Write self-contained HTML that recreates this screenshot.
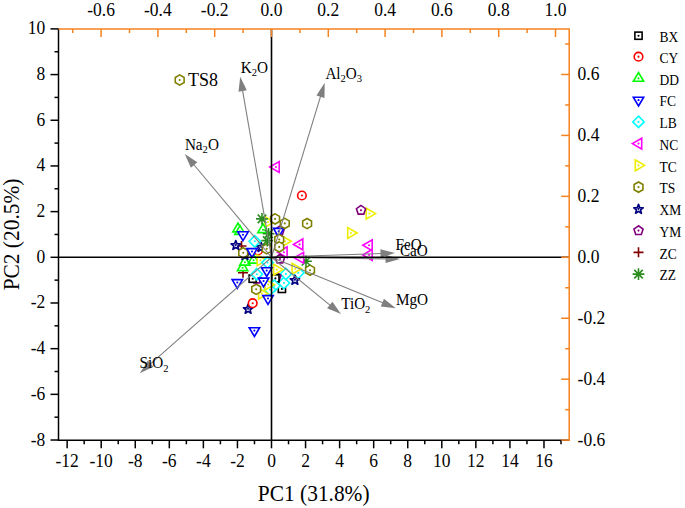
<!DOCTYPE html>
<html><head><meta charset="utf-8"><style>
html,body{margin:0;padding:0;background:#fff;width:685px;height:508px;overflow:hidden;position:relative}
</style></head><body>
<svg width="685" height="508" viewBox="0 0 685 508" style="position:absolute;left:0;top:0">
<rect width="685" height="508" fill="#ffffff"/>
<circle cx="258" cy="250.5" r="4.3" fill="#fff" stroke="#ff0000" stroke-width="1.6"/><circle cx="258" cy="250.5" r="1.05" fill="#ff0000"/>
<path d="M236.5 246 H246.5 M241.5 241 V251" fill="none" stroke="#800000" stroke-width="1.6"/>
<path d="M261.2 242.55 L259.97 245.75 L256.54 245.94 L259.2 248.1 L258.32 251.41 L261.2 249.55 L264.08 251.41 L263.2 248.1 L265.86 245.94 L262.43 245.75 Z" fill="#fff" stroke="#000080" stroke-width="1.7" stroke-linejoin="round"/><circle cx="261.2" cy="247" r="1.05" fill="#000080"/>
<path d="M375.6 213.6 L366.2 208.2 L366.2 219 Z" fill="#fff" stroke="#eeee00" stroke-width="1.6"/><circle cx="369.4" cy="213.6" r="1.05" fill="#eeee00"/>
<path d="M361 205.4 L356.43 208.72 L358.18 214.08 L363.82 214.08 L365.57 208.72 Z" fill="#fff" stroke="#800080" stroke-width="1.6"/><circle cx="361" cy="210.2" r="1.05" fill="#800080"/>
<path d="M357.1 233 L347.7 227.6 L347.7 238.4 Z" fill="#fff" stroke="#eeee00" stroke-width="1.6"/><circle cx="350.9" cy="233" r="1.05" fill="#eeee00"/>
<path d="M362.8 245.2 L372.2 239.8 L372.2 250.6 Z" fill="#fff" stroke="#ff00ff" stroke-width="1.6"/><circle cx="369" cy="245.2" r="1.05" fill="#ff00ff"/>
<path d="M362.8 254.9 L372.2 249.5 L372.2 260.3 Z" fill="#fff" stroke="#ff00ff" stroke-width="1.6"/><circle cx="369" cy="254.9" r="1.05" fill="#ff00ff"/>
<path d="M269.8 167 L279.2 161.6 L279.2 172.4 Z" fill="#fff" stroke="#ff00ff" stroke-width="1.6"/><circle cx="276" cy="167" r="1.05" fill="#ff00ff"/>
<circle cx="301.9" cy="195.5" r="4.3" fill="#fff" stroke="#ff0000" stroke-width="1.6"/><circle cx="301.9" cy="195.5" r="1.05" fill="#ff0000"/>
<path d="M307.1 218.5 L302.68 221.05 L302.68 226.15 L307.1 228.7 L311.52 226.15 L311.52 221.05 Z" fill="#fff" stroke="#808000" stroke-width="1.6"/><circle cx="307.1" cy="223.6" r="1.05" fill="#808000"/>
<path d="M310 265.1 L305.58 267.65 L305.58 272.75 L310 275.3 L314.42 272.75 L314.42 267.65 Z" fill="#fff" stroke="#808000" stroke-width="1.6"/><circle cx="310" cy="270.2" r="1.05" fill="#808000"/>
<path d="M300.1 261.3 H311.9 M306 255.4 V267.2 M301.75 257.05 L310.25 265.55 M301.75 265.55 L310.25 257.05" fill="none" stroke="#2a8c1e" stroke-width="1.6"/>
<path d="M293.4 244.4 L302.8 239 L302.8 249.8 Z" fill="#fff" stroke="#ff00ff" stroke-width="1.6"/><circle cx="299.6" cy="244.4" r="1.05" fill="#ff00ff"/>
<path d="M294.2 257.8 L303.6 252.4 L303.6 263.2 Z" fill="#fff" stroke="#ff00ff" stroke-width="1.6"/><circle cx="300.4" cy="257.8" r="1.05" fill="#ff00ff"/>
<path d="M277.7 252.3 L287.1 246.9 L287.1 257.7 Z" fill="#fff" stroke="#ff00ff" stroke-width="1.6"/><circle cx="283.9" cy="252.3" r="1.05" fill="#ff00ff"/>
<path d="M298.3 267.1 L304 272.8 L298.3 278.5 L292.6 272.8 Z" fill="#fff" stroke="#00ffff" stroke-width="1.6"/><circle cx="298.3" cy="272.8" r="1.05" fill="#00ffff"/>
<path d="M301.5 268.8 L292.1 263.4 L292.1 274.2 Z" fill="#fff" stroke="#eeee00" stroke-width="1.6"/><circle cx="295.3" cy="268.8" r="1.05" fill="#eeee00"/>
<path d="M294.9 275.35 L293.67 278.55 L290.24 278.74 L292.9 280.9 L292.02 284.21 L294.9 282.35 L297.78 284.21 L296.9 280.9 L299.56 278.74 L296.13 278.55 Z" fill="#fff" stroke="#000080" stroke-width="1.7" stroke-linejoin="round"/><circle cx="294.9" cy="279.8" r="1.05" fill="#000080"/>
<rect x="278.3" y="285.3" width="7.2" height="7.2" fill="#fff" stroke="#000000" stroke-width="1.6"/><circle cx="281.9" cy="288.9" r="1.05" fill="#000000"/>
<path d="M283.9 277.3 L289.6 283 L283.9 288.7 L278.2 283 Z" fill="#fff" stroke="#00ffff" stroke-width="1.6"/><circle cx="283.9" cy="283" r="1.05" fill="#00ffff"/>
<path d="M285.9 268.2 L291.6 273.9 L285.9 279.6 L280.2 273.9 Z" fill="#fff" stroke="#00ffff" stroke-width="1.6"/><circle cx="285.9" cy="273.9" r="1.05" fill="#00ffff"/>
<path d="M276.4 272 L271.83 275.32 L273.58 280.68 L279.22 280.68 L280.97 275.32 Z" fill="#fff" stroke="#800080" stroke-width="1.6"/><circle cx="276.4" cy="276.8" r="1.05" fill="#800080"/>
<rect x="271.8" y="274.8" width="7.2" height="7.2" fill="#fff" stroke="#000000" stroke-width="1.6"/><circle cx="275.4" cy="278.4" r="1.05" fill="#000000"/>
<path d="M274.4 280 L280.1 285.7 L274.4 291.4 L268.7 285.7 Z" fill="#fff" stroke="#00ffff" stroke-width="1.6"/><circle cx="274.4" cy="285.7" r="1.05" fill="#00ffff"/>
<path d="M283 269.6 L273.6 264.2 L273.6 275 Z" fill="#fff" stroke="#eeee00" stroke-width="1.6"/><circle cx="276.8" cy="269.6" r="1.05" fill="#eeee00"/>
<path d="M270 284 L275.7 289.7 L270 295.4 L264.3 289.7 Z" fill="#fff" stroke="#00ffff" stroke-width="1.6"/><circle cx="270" cy="289.7" r="1.05" fill="#00ffff"/>
<path d="M274.4 284.6 L265 279.2 L265 290 Z" fill="#fff" stroke="#eeee00" stroke-width="1.6"/><circle cx="268.2" cy="284.6" r="1.05" fill="#eeee00"/>
<path d="M268 293.6 L258.6 288.2 L258.6 299 Z" fill="#fff" stroke="#eeee00" stroke-width="1.6"/><circle cx="261.8" cy="293.6" r="1.05" fill="#eeee00"/>
<path d="M268 304.4 L273.2 295.6 L262.8 295.6 Z" fill="#fff" stroke="#0000ff" stroke-width="1.6"/><circle cx="268" cy="298.5" r="1.05" fill="#0000ff"/>
<path d="M256.2 284.2 L251.78 286.75 L251.78 291.85 L256.2 294.4 L260.62 291.85 L260.62 286.75 Z" fill="#fff" stroke="#808000" stroke-width="1.6"/><circle cx="256.2" cy="289.3" r="1.05" fill="#808000"/>
<path d="M248.1 304.35 L246.87 307.55 L243.44 307.74 L246.1 309.9 L245.22 313.21 L248.1 311.35 L250.98 313.21 L250.1 309.9 L252.76 307.74 L249.33 307.55 Z" fill="#fff" stroke="#000080" stroke-width="1.7" stroke-linejoin="round"/><circle cx="248.1" cy="308.8" r="1.05" fill="#000080"/>
<circle cx="252.7" cy="303.2" r="4.3" fill="#fff" stroke="#ff0000" stroke-width="1.6"/><circle cx="252.7" cy="303.2" r="1.05" fill="#ff0000"/>
<path d="M254.4 336.5 L259.6 327.7 L249.2 327.7 Z" fill="#fff" stroke="#0000ff" stroke-width="1.6"/><circle cx="254.4" cy="330.6" r="1.05" fill="#0000ff"/>
<path d="M237.3 288.4 L242.5 279.6 L232.1 279.6 Z" fill="#fff" stroke="#0000ff" stroke-width="1.6"/><circle cx="237.3" cy="282.5" r="1.05" fill="#0000ff"/>
<path d="M256.5 274.2 L251.93 277.52 L253.68 282.88 L259.32 282.88 L261.07 277.52 Z" fill="#fff" stroke="#800080" stroke-width="1.6"/><circle cx="256.5" cy="279" r="1.05" fill="#800080"/>
<rect x="249.1" y="275.1" width="7.2" height="7.2" fill="#fff" stroke="#000000" stroke-width="1.6"/><circle cx="252.7" cy="278.7" r="1.05" fill="#000000"/>
<path d="M256.8 268.5 L262.5 274.2 L256.8 279.9 L251.1 274.2 Z" fill="#fff" stroke="#00ffff" stroke-width="1.6"/><circle cx="256.8" cy="274.2" r="1.05" fill="#00ffff"/>
<path d="M263.6 286.9 L268.8 278.1 L258.4 278.1 Z" fill="#fff" stroke="#0000ff" stroke-width="1.6"/><circle cx="263.6" cy="281" r="1.05" fill="#0000ff"/>
<path d="M238 272.8 H248 M243 267.8 V277.8" fill="none" stroke="#800000" stroke-width="1.6"/>
<path d="M242.6 261.8 L247.8 270.6 L237.4 270.6 Z" fill="#fff" stroke="#00ff00" stroke-width="1.6"/><circle cx="242.6" cy="267.7" r="1.05" fill="#00ff00"/>
<path d="M244.9 256.3 L250.1 265.1 L239.7 265.1 Z" fill="#fff" stroke="#00ff00" stroke-width="1.6"/><circle cx="244.9" cy="262.2" r="1.05" fill="#00ff00"/>
<path d="M253.6 254.3 L258.8 263.1 L248.4 263.1 Z" fill="#fff" stroke="#00ff00" stroke-width="1.6"/><circle cx="253.6" cy="260.2" r="1.05" fill="#00ff00"/>
<path d="M266.6 260.2 L257.2 254.8 L257.2 265.6 Z" fill="#fff" stroke="#eeee00" stroke-width="1.6"/><circle cx="260.4" cy="260.2" r="1.05" fill="#eeee00"/>
<path d="M267.5 256.9 L273.2 262.6 L267.5 268.3 L261.8 262.6 Z" fill="#fff" stroke="#00ffff" stroke-width="1.6"/><circle cx="267.5" cy="262.6" r="1.05" fill="#00ffff"/>
<path d="M266.7 276.5 L271.9 267.7 L261.5 267.7 Z" fill="#fff" stroke="#0000ff" stroke-width="1.6"/><circle cx="266.7" cy="270.6" r="1.05" fill="#0000ff"/>
<path d="M280 254.2 L275.43 257.52 L277.18 262.88 L282.82 262.88 L284.57 257.52 Z" fill="#fff" stroke="#800080" stroke-width="1.6"/><circle cx="280" cy="259" r="1.05" fill="#800080"/>
<path d="M266.8 243.7 L262.38 246.25 L262.38 251.35 L266.8 253.9 L271.22 251.35 L271.22 246.25 Z" fill="#fff" stroke="#808000" stroke-width="1.6"/><circle cx="266.8" cy="248.8" r="1.05" fill="#808000"/>
<path d="M245 250.55 L243.77 253.75 L240.34 253.94 L243 256.1 L242.12 259.41 L245 257.55 L247.88 259.41 L247 256.1 L249.66 253.94 L246.23 253.75 Z" fill="#fff" stroke="#000080" stroke-width="1.7" stroke-linejoin="round"/><circle cx="245" cy="255" r="1.05" fill="#000080"/>
<path d="M243.2 247.7 L238.78 250.25 L238.78 255.35 L243.2 257.9 L247.62 255.35 L247.62 250.25 Z" fill="#fff" stroke="#808000" stroke-width="1.6"/><circle cx="243.2" cy="252.8" r="1.05" fill="#808000"/>
<path d="M252 257.4 L257.2 248.6 L246.8 248.6 Z" fill="#fff" stroke="#0000ff" stroke-width="1.6"/><circle cx="252" cy="251.5" r="1.05" fill="#0000ff"/>
<path d="M235.8 240.55 L234.57 243.75 L231.14 243.94 L233.8 246.1 L232.92 249.41 L235.8 247.55 L238.68 249.41 L237.8 246.1 L240.46 243.94 L237.03 243.75 Z" fill="#fff" stroke="#000080" stroke-width="1.7" stroke-linejoin="round"/><circle cx="235.8" cy="245" r="1.05" fill="#000080"/>
<path d="M254.8 235.6 L260.5 241.3 L254.8 247 L249.1 241.3 Z" fill="#fff" stroke="#00ffff" stroke-width="1.6"/><circle cx="254.8" cy="241.3" r="1.05" fill="#00ffff"/>
<path d="M238 223.1 L243.2 231.9 L232.8 231.9 Z" fill="#fff" stroke="#00ff00" stroke-width="1.6"/><circle cx="238" cy="229" r="1.05" fill="#00ff00"/>
<path d="M240 225.6 L245.2 234.4 L234.8 234.4 Z" fill="#fff" stroke="#00ff00" stroke-width="1.6"/><circle cx="240" cy="231.5" r="1.05" fill="#00ff00"/>
<path d="M243 240.6 L248.2 231.8 L237.8 231.8 Z" fill="#fff" stroke="#0000ff" stroke-width="1.6"/><circle cx="243" cy="234.7" r="1.05" fill="#0000ff"/>
<path d="M291.2 241.3 L281.8 235.9 L281.8 246.7 Z" fill="#fff" stroke="#eeee00" stroke-width="1.6"/><circle cx="285" cy="241.3" r="1.05" fill="#eeee00"/>
<path d="M279.5 226.2 L274.93 229.52 L276.68 234.88 L282.32 234.88 L284.07 229.52 Z" fill="#fff" stroke="#800080" stroke-width="1.6"/><circle cx="279.5" cy="231" r="1.05" fill="#800080"/>
<path d="M278.7 237.2 L283.9 228.4 L273.5 228.4 Z" fill="#fff" stroke="#0000ff" stroke-width="1.6"/><circle cx="278.7" cy="231.3" r="1.05" fill="#0000ff"/>
<path d="M279.2 234.4 L274.78 236.95 L274.78 242.05 L279.2 244.6 L283.62 242.05 L283.62 236.95 Z" fill="#fff" stroke="#808000" stroke-width="1.6"/><circle cx="279.2" cy="239.5" r="1.05" fill="#808000"/>
<path d="M279.2 241.8 L274.78 244.35 L274.78 249.45 L279.2 252 L283.62 249.45 L283.62 244.35 Z" fill="#fff" stroke="#808000" stroke-width="1.6"/><circle cx="279.2" cy="246.9" r="1.05" fill="#808000"/>
<path d="M274.2 222 L264.8 216.6 L264.8 227.4 Z" fill="#fff" stroke="#eeee00" stroke-width="1.6"/><circle cx="268" cy="222" r="1.05" fill="#eeee00"/>
<path d="M284.8 218.3 L280.38 220.85 L280.38 225.95 L284.8 228.5 L289.22 225.95 L289.22 220.85 Z" fill="#fff" stroke="#808000" stroke-width="1.6"/><circle cx="284.8" cy="223.4" r="1.05" fill="#808000"/>
<path d="M275.1 213.8 L270.68 216.35 L270.68 221.45 L275.1 224 L279.52 221.45 L279.52 216.35 Z" fill="#fff" stroke="#808000" stroke-width="1.6"/><circle cx="275.1" cy="218.9" r="1.05" fill="#808000"/>
<path d="M263 223.8 L268.2 232.6 L257.8 232.6 Z" fill="#fff" stroke="#00ff00" stroke-width="1.6"/><circle cx="263" cy="229.7" r="1.05" fill="#00ff00"/>
<path d="M262.7 233.8 H274.5 M268.6 227.9 V239.7 M264.35 229.55 L272.85 238.05 M264.35 238.05 L272.85 229.55" fill="none" stroke="#2a8c1e" stroke-width="1.6"/>
<path d="M261.3 240.6 H273.1 M267.2 234.7 V246.5 M262.95 236.35 L271.45 244.85 M262.95 244.85 L271.45 236.35" fill="none" stroke="#2a8c1e" stroke-width="1.6"/>
<path d="M256.1 218.9 H267.9 M262 213 V224.8 M257.75 214.65 L266.25 223.15 M257.75 223.15 L266.25 214.65" fill="none" stroke="#2a8c1e" stroke-width="1.6"/>
<path d="M179.7 74.9 L175.28 77.45 L175.28 82.55 L179.7 85.1 L184.12 82.55 L184.12 77.45 Z" fill="#fff" stroke="#808000" stroke-width="1.6"/><circle cx="179.7" cy="80" r="1.05" fill="#808000"/>
<line x1="271.5" y1="257.3" x2="242.51" y2="90.1" stroke="#7f7f7f" stroke-width="1.1"/>
<path d="M240.2 76.8 L246.82 90.37 L238.54 91.8 Z" fill="#7f7f7f"/>
<line x1="271.5" y1="257.3" x2="320.76" y2="95.71" stroke="#7f7f7f" stroke-width="1.1"/>
<path d="M324.7 82.8 L324.49 97.89 L316.45 95.44 Z" fill="#7f7f7f"/>
<line x1="271.5" y1="257.3" x2="193.47" y2="164.24" stroke="#7f7f7f" stroke-width="1.1"/>
<path d="M184.8 153.9 L197.33 162.31 L190.9 167.71 Z" fill="#7f7f7f"/>
<line x1="271.5" y1="257.3" x2="149.93" y2="364.38" stroke="#7f7f7f" stroke-width="1.1"/>
<path d="M139.8 373.3 L147.91 360.56 L153.46 366.87 Z" fill="#7f7f7f"/>
<line x1="271.5" y1="257.3" x2="330.55" y2="305.56" stroke="#7f7f7f" stroke-width="1.1"/>
<path d="M341 314.1 L327.11 308.18 L332.43 301.67 Z" fill="#7f7f7f"/>
<line x1="271.5" y1="257.3" x2="383.31" y2="303.08" stroke="#7f7f7f" stroke-width="1.1"/>
<path d="M395.8 308.2 L380.79 306.59 L383.97 298.82 Z" fill="#7f7f7f"/>
<line x1="271.5" y1="257.3" x2="381.51" y2="253.47" stroke="#7f7f7f" stroke-width="1.1"/>
<path d="M395 253 L380.65 257.7 L380.36 249.31 Z" fill="#7f7f7f"/>
<line x1="271.5" y1="257.3" x2="386.6" y2="258.91" stroke="#7f7f7f" stroke-width="1.1"/>
<path d="M400.1 259.1 L385.54 263.1 L385.66 254.7 Z" fill="#7f7f7f"/>
<line x1="58.5" y1="257.3" x2="569.2" y2="257.3" stroke="#000" stroke-width="1.6"/>
<line x1="271.5" y1="29" x2="271.5" y2="440.3" stroke="#000" stroke-width="1.6"/>
<line x1="58.5" y1="28.4" x2="58.5" y2="440.9" stroke="#000" stroke-width="1.5"/>
<line x1="57.9" y1="440.3" x2="569.2" y2="440.3" stroke="#000" stroke-width="1.5"/>
<line x1="50.5" y1="440.02" x2="58.5" y2="440.02" stroke="#000" stroke-width="1.5"/>
<line x1="54.5" y1="417.18" x2="58.5" y2="417.18" stroke="#000" stroke-width="1.5"/>
<line x1="50.5" y1="394.34" x2="58.5" y2="394.34" stroke="#000" stroke-width="1.5"/>
<line x1="54.5" y1="371.5" x2="58.5" y2="371.5" stroke="#000" stroke-width="1.5"/>
<line x1="50.5" y1="348.66" x2="58.5" y2="348.66" stroke="#000" stroke-width="1.5"/>
<line x1="54.5" y1="325.82" x2="58.5" y2="325.82" stroke="#000" stroke-width="1.5"/>
<line x1="50.5" y1="302.98" x2="58.5" y2="302.98" stroke="#000" stroke-width="1.5"/>
<line x1="54.5" y1="280.14" x2="58.5" y2="280.14" stroke="#000" stroke-width="1.5"/>
<line x1="50.5" y1="257.3" x2="58.5" y2="257.3" stroke="#000" stroke-width="1.5"/>
<line x1="54.5" y1="234.46" x2="58.5" y2="234.46" stroke="#000" stroke-width="1.5"/>
<line x1="50.5" y1="211.62" x2="58.5" y2="211.62" stroke="#000" stroke-width="1.5"/>
<line x1="54.5" y1="188.78" x2="58.5" y2="188.78" stroke="#000" stroke-width="1.5"/>
<line x1="50.5" y1="165.94" x2="58.5" y2="165.94" stroke="#000" stroke-width="1.5"/>
<line x1="54.5" y1="143.1" x2="58.5" y2="143.1" stroke="#000" stroke-width="1.5"/>
<line x1="50.5" y1="120.26" x2="58.5" y2="120.26" stroke="#000" stroke-width="1.5"/>
<line x1="54.5" y1="97.42" x2="58.5" y2="97.42" stroke="#000" stroke-width="1.5"/>
<line x1="50.5" y1="74.58" x2="58.5" y2="74.58" stroke="#000" stroke-width="1.5"/>
<line x1="54.5" y1="51.74" x2="58.5" y2="51.74" stroke="#000" stroke-width="1.5"/>
<line x1="50.5" y1="28.9" x2="58.5" y2="28.9" stroke="#000" stroke-width="1.5"/>
<line x1="67.14" y1="440.3" x2="67.14" y2="448.3" stroke="#000" stroke-width="1.5"/>
<line x1="84.17" y1="440.3" x2="84.17" y2="444.3" stroke="#000" stroke-width="1.5"/>
<line x1="101.2" y1="440.3" x2="101.2" y2="448.3" stroke="#000" stroke-width="1.5"/>
<line x1="118.23" y1="440.3" x2="118.23" y2="444.3" stroke="#000" stroke-width="1.5"/>
<line x1="135.26" y1="440.3" x2="135.26" y2="448.3" stroke="#000" stroke-width="1.5"/>
<line x1="152.29" y1="440.3" x2="152.29" y2="444.3" stroke="#000" stroke-width="1.5"/>
<line x1="169.32" y1="440.3" x2="169.32" y2="448.3" stroke="#000" stroke-width="1.5"/>
<line x1="186.35" y1="440.3" x2="186.35" y2="444.3" stroke="#000" stroke-width="1.5"/>
<line x1="203.38" y1="440.3" x2="203.38" y2="448.3" stroke="#000" stroke-width="1.5"/>
<line x1="220.41" y1="440.3" x2="220.41" y2="444.3" stroke="#000" stroke-width="1.5"/>
<line x1="237.44" y1="440.3" x2="237.44" y2="448.3" stroke="#000" stroke-width="1.5"/>
<line x1="254.47" y1="440.3" x2="254.47" y2="444.3" stroke="#000" stroke-width="1.5"/>
<line x1="271.5" y1="440.3" x2="271.5" y2="448.3" stroke="#000" stroke-width="1.5"/>
<line x1="288.53" y1="440.3" x2="288.53" y2="444.3" stroke="#000" stroke-width="1.5"/>
<line x1="305.56" y1="440.3" x2="305.56" y2="448.3" stroke="#000" stroke-width="1.5"/>
<line x1="322.59" y1="440.3" x2="322.59" y2="444.3" stroke="#000" stroke-width="1.5"/>
<line x1="339.62" y1="440.3" x2="339.62" y2="448.3" stroke="#000" stroke-width="1.5"/>
<line x1="356.65" y1="440.3" x2="356.65" y2="444.3" stroke="#000" stroke-width="1.5"/>
<line x1="373.68" y1="440.3" x2="373.68" y2="448.3" stroke="#000" stroke-width="1.5"/>
<line x1="390.71" y1="440.3" x2="390.71" y2="444.3" stroke="#000" stroke-width="1.5"/>
<line x1="407.74" y1="440.3" x2="407.74" y2="448.3" stroke="#000" stroke-width="1.5"/>
<line x1="424.77" y1="440.3" x2="424.77" y2="444.3" stroke="#000" stroke-width="1.5"/>
<line x1="441.8" y1="440.3" x2="441.8" y2="448.3" stroke="#000" stroke-width="1.5"/>
<line x1="458.83" y1="440.3" x2="458.83" y2="444.3" stroke="#000" stroke-width="1.5"/>
<line x1="475.86" y1="440.3" x2="475.86" y2="448.3" stroke="#000" stroke-width="1.5"/>
<line x1="492.89" y1="440.3" x2="492.89" y2="444.3" stroke="#000" stroke-width="1.5"/>
<line x1="509.92" y1="440.3" x2="509.92" y2="448.3" stroke="#000" stroke-width="1.5"/>
<line x1="526.95" y1="440.3" x2="526.95" y2="444.3" stroke="#000" stroke-width="1.5"/>
<line x1="543.98" y1="440.3" x2="543.98" y2="448.3" stroke="#000" stroke-width="1.5"/>
<line x1="561.01" y1="440.3" x2="561.01" y2="444.3" stroke="#000" stroke-width="1.5"/>
<line x1="58.5" y1="29" x2="569.9" y2="29" stroke="#f58220" stroke-width="1.5"/>
<line x1="569.2" y1="29" x2="569.2" y2="440.9" stroke="#f58220" stroke-width="1.5"/>
<line x1="72.7" y1="29" x2="72.7" y2="33" stroke="#f58220" stroke-width="1.5"/>
<line x1="101.1" y1="29" x2="101.1" y2="37" stroke="#f58220" stroke-width="1.5"/>
<line x1="129.5" y1="29" x2="129.5" y2="33" stroke="#f58220" stroke-width="1.5"/>
<line x1="157.9" y1="29" x2="157.9" y2="37" stroke="#f58220" stroke-width="1.5"/>
<line x1="186.3" y1="29" x2="186.3" y2="33" stroke="#f58220" stroke-width="1.5"/>
<line x1="214.7" y1="29" x2="214.7" y2="37" stroke="#f58220" stroke-width="1.5"/>
<line x1="243.1" y1="29" x2="243.1" y2="33" stroke="#f58220" stroke-width="1.5"/>
<line x1="271.5" y1="29" x2="271.5" y2="37" stroke="#f58220" stroke-width="1.5"/>
<line x1="299.9" y1="29" x2="299.9" y2="33" stroke="#f58220" stroke-width="1.5"/>
<line x1="328.3" y1="29" x2="328.3" y2="37" stroke="#f58220" stroke-width="1.5"/>
<line x1="356.7" y1="29" x2="356.7" y2="33" stroke="#f58220" stroke-width="1.5"/>
<line x1="385.1" y1="29" x2="385.1" y2="37" stroke="#f58220" stroke-width="1.5"/>
<line x1="413.5" y1="29" x2="413.5" y2="33" stroke="#f58220" stroke-width="1.5"/>
<line x1="441.9" y1="29" x2="441.9" y2="37" stroke="#f58220" stroke-width="1.5"/>
<line x1="470.3" y1="29" x2="470.3" y2="33" stroke="#f58220" stroke-width="1.5"/>
<line x1="498.7" y1="29" x2="498.7" y2="37" stroke="#f58220" stroke-width="1.5"/>
<line x1="527.1" y1="29" x2="527.1" y2="33" stroke="#f58220" stroke-width="1.5"/>
<line x1="555.5" y1="29" x2="555.5" y2="37" stroke="#f58220" stroke-width="1.5"/>
<line x1="561.2" y1="440.12" x2="569.2" y2="440.12" stroke="#f58220" stroke-width="1.5"/>
<line x1="565.2" y1="409.65" x2="569.2" y2="409.65" stroke="#f58220" stroke-width="1.5"/>
<line x1="561.2" y1="379.18" x2="569.2" y2="379.18" stroke="#f58220" stroke-width="1.5"/>
<line x1="565.2" y1="348.71" x2="569.2" y2="348.71" stroke="#f58220" stroke-width="1.5"/>
<line x1="561.2" y1="318.24" x2="569.2" y2="318.24" stroke="#f58220" stroke-width="1.5"/>
<line x1="565.2" y1="287.77" x2="569.2" y2="287.77" stroke="#f58220" stroke-width="1.5"/>
<line x1="561.2" y1="257.3" x2="569.2" y2="257.3" stroke="#f58220" stroke-width="1.5"/>
<line x1="565.2" y1="226.83" x2="569.2" y2="226.83" stroke="#f58220" stroke-width="1.5"/>
<line x1="561.2" y1="196.36" x2="569.2" y2="196.36" stroke="#f58220" stroke-width="1.5"/>
<line x1="565.2" y1="165.89" x2="569.2" y2="165.89" stroke="#f58220" stroke-width="1.5"/>
<line x1="561.2" y1="135.42" x2="569.2" y2="135.42" stroke="#f58220" stroke-width="1.5"/>
<line x1="565.2" y1="104.95" x2="569.2" y2="104.95" stroke="#f58220" stroke-width="1.5"/>
<line x1="561.2" y1="74.48" x2="569.2" y2="74.48" stroke="#f58220" stroke-width="1.5"/>
<line x1="565.2" y1="44.01" x2="569.2" y2="44.01" stroke="#f58220" stroke-width="1.5"/>
<text transform="translate(45.3 445.52) scale(1 1.05)" text-anchor="end" font-family='"Liberation Serif", serif' font-size="17.5">-8</text>
<text transform="translate(45.3 399.84) scale(1 1.05)" text-anchor="end" font-family='"Liberation Serif", serif' font-size="17.5">-6</text>
<text transform="translate(45.3 354.16) scale(1 1.05)" text-anchor="end" font-family='"Liberation Serif", serif' font-size="17.5">-4</text>
<text transform="translate(45.3 308.48) scale(1 1.05)" text-anchor="end" font-family='"Liberation Serif", serif' font-size="17.5">-2</text>
<text transform="translate(45.3 262.8) scale(1 1.05)" text-anchor="end" font-family='"Liberation Serif", serif' font-size="17.5">0</text>
<text transform="translate(45.3 217.12) scale(1 1.05)" text-anchor="end" font-family='"Liberation Serif", serif' font-size="17.5">2</text>
<text transform="translate(45.3 171.44) scale(1 1.05)" text-anchor="end" font-family='"Liberation Serif", serif' font-size="17.5">4</text>
<text transform="translate(45.3 125.76) scale(1 1.05)" text-anchor="end" font-family='"Liberation Serif", serif' font-size="17.5">6</text>
<text transform="translate(45.3 80.08) scale(1 1.05)" text-anchor="end" font-family='"Liberation Serif", serif' font-size="17.5">8</text>
<text transform="translate(45.3 34.4) scale(1 1.05)" text-anchor="end" font-family='"Liberation Serif", serif' font-size="17.5">10</text>
<text transform="translate(67.14 467.1) scale(1 1.05)" text-anchor="middle" font-family='"Liberation Serif", serif' font-size="17.5">-12</text>
<text transform="translate(101.2 467.1) scale(1 1.05)" text-anchor="middle" font-family='"Liberation Serif", serif' font-size="17.5">-10</text>
<text transform="translate(135.26 467.1) scale(1 1.05)" text-anchor="middle" font-family='"Liberation Serif", serif' font-size="17.5">-8</text>
<text transform="translate(169.32 467.1) scale(1 1.05)" text-anchor="middle" font-family='"Liberation Serif", serif' font-size="17.5">-6</text>
<text transform="translate(203.38 467.1) scale(1 1.05)" text-anchor="middle" font-family='"Liberation Serif", serif' font-size="17.5">-4</text>
<text transform="translate(237.44 467.1) scale(1 1.05)" text-anchor="middle" font-family='"Liberation Serif", serif' font-size="17.5">-2</text>
<text transform="translate(271.5 467.1) scale(1 1.05)" text-anchor="middle" font-family='"Liberation Serif", serif' font-size="17.5">0</text>
<text transform="translate(305.56 467.1) scale(1 1.05)" text-anchor="middle" font-family='"Liberation Serif", serif' font-size="17.5">2</text>
<text transform="translate(339.62 467.1) scale(1 1.05)" text-anchor="middle" font-family='"Liberation Serif", serif' font-size="17.5">4</text>
<text transform="translate(373.68 467.1) scale(1 1.05)" text-anchor="middle" font-family='"Liberation Serif", serif' font-size="17.5">6</text>
<text transform="translate(407.74 467.1) scale(1 1.05)" text-anchor="middle" font-family='"Liberation Serif", serif' font-size="17.5">8</text>
<text transform="translate(441.8 467.1) scale(1 1.05)" text-anchor="middle" font-family='"Liberation Serif", serif' font-size="17.5">10</text>
<text transform="translate(475.86 467.1) scale(1 1.05)" text-anchor="middle" font-family='"Liberation Serif", serif' font-size="17.5">12</text>
<text transform="translate(509.92 467.1) scale(1 1.05)" text-anchor="middle" font-family='"Liberation Serif", serif' font-size="17.5">14</text>
<text transform="translate(543.98 467.1) scale(1 1.05)" text-anchor="middle" font-family='"Liberation Serif", serif' font-size="17.5">16</text>
<text transform="translate(101.1 16.1) scale(1 1.05)" text-anchor="middle" font-family='"Liberation Serif", serif' font-size="17.5">-0.6</text>
<text transform="translate(157.9 16.1) scale(1 1.05)" text-anchor="middle" font-family='"Liberation Serif", serif' font-size="17.5">-0.4</text>
<text transform="translate(214.7 16.1) scale(1 1.05)" text-anchor="middle" font-family='"Liberation Serif", serif' font-size="17.5">-0.2</text>
<text transform="translate(271.5 16.1) scale(1 1.05)" text-anchor="middle" font-family='"Liberation Serif", serif' font-size="17.5">0.0</text>
<text transform="translate(328.3 16.1) scale(1 1.05)" text-anchor="middle" font-family='"Liberation Serif", serif' font-size="17.5">0.2</text>
<text transform="translate(385.1 16.1) scale(1 1.05)" text-anchor="middle" font-family='"Liberation Serif", serif' font-size="17.5">0.4</text>
<text transform="translate(441.9 16.1) scale(1 1.05)" text-anchor="middle" font-family='"Liberation Serif", serif' font-size="17.5">0.6</text>
<text transform="translate(498.7 16.1) scale(1 1.05)" text-anchor="middle" font-family='"Liberation Serif", serif' font-size="17.5">0.8</text>
<text transform="translate(555.5 16.1) scale(1 1.05)" text-anchor="middle" font-family='"Liberation Serif", serif' font-size="17.5">1.0</text>
<text transform="translate(577.6 445.92) scale(1 1.05)" font-family='"Liberation Serif", serif' font-size="17.5">-0.6</text>
<text transform="translate(577.6 384.98) scale(1 1.05)" font-family='"Liberation Serif", serif' font-size="17.5">-0.4</text>
<text transform="translate(577.6 324.04) scale(1 1.05)" font-family='"Liberation Serif", serif' font-size="17.5">-0.2</text>
<text transform="translate(577.6 263.1) scale(1 1.05)" font-family='"Liberation Serif", serif' font-size="17.5">0.0</text>
<text transform="translate(577.6 202.16) scale(1 1.05)" font-family='"Liberation Serif", serif' font-size="17.5">0.2</text>
<text transform="translate(577.6 141.22) scale(1 1.05)" font-family='"Liberation Serif", serif' font-size="17.5">0.4</text>
<text transform="translate(577.6 80.28) scale(1 1.05)" font-family='"Liberation Serif", serif' font-size="17.5">0.6</text>
<text transform="translate(313.7 500.5) scale(1 1.03)" text-anchor="middle" font-family='"Liberation Serif", serif' font-size="21.4">PC1 (31.8%)</text>
<text transform="translate(18.7 234.5) rotate(-90) scale(1 1.03)" text-anchor="middle" font-family='"Liberation Serif", serif' font-size="21.4">PC2 (20.5%)</text>
<text transform="translate(240.8 72.5) scale(1 1.03)" font-family='"Liberation Serif", serif' font-size="15.2">K<tspan font-size="10.6" dy="3.3">2</tspan><tspan dy="-3.3">​</tspan>O</text>
<text transform="translate(325.4 78.9) scale(1 1.03)" font-family='"Liberation Serif", serif' font-size="15.2">Al<tspan font-size="10.6" dy="3.3">2</tspan><tspan dy="-3.3">​</tspan>O<tspan font-size="10.6" dy="3.3">3</tspan><tspan dy="-3.3">​</tspan></text>
<text transform="translate(184.9 149.6) scale(1 1.03)" font-family='"Liberation Serif", serif' font-size="15.2">Na<tspan font-size="10.6" dy="3.3">2</tspan><tspan dy="-3.3">​</tspan>O</text>
<text transform="translate(139.6 368.2) scale(1 1.03)" font-family='"Liberation Serif", serif' font-size="15.2">SiO<tspan font-size="10.6" dy="3.3">2</tspan><tspan dy="-3.3">​</tspan></text>
<text transform="translate(341.2 309.1) scale(1 1.03)" font-family='"Liberation Serif", serif' font-size="15.2">TiO<tspan font-size="10.6" dy="3.3">2</tspan><tspan dy="-3.3">​</tspan></text>
<text transform="translate(395.9 305) scale(1 1.03)" font-family='"Liberation Serif", serif' font-size="15.2">MgO</text>
<text transform="translate(395.6 250.3) scale(1 1.03)" font-family='"Liberation Serif", serif' font-size="15.2">FeO</text>
<text transform="translate(400 255.5) scale(1 1.03)" font-family='"Liberation Serif", serif' font-size="15.2">CaO</text>
<text transform="translate(187.9 86.3) scale(1 1.03)" font-family='"Liberation Serif", serif' font-size="18">TS8</text>
<rect x="634.9" y="32.1" width="7.2" height="7.2" fill="#fff" stroke="#000000" stroke-width="1.6"/><circle cx="638.5" cy="35.7" r="1.05" fill="#000000"/>
<text transform="translate(659.5 41.9) scale(1 1.03)" font-family='"Liberation Serif", serif' font-size="13.5">BX</text>
<circle cx="638.5" cy="56.64" r="4.3" fill="#fff" stroke="#ff0000" stroke-width="1.6"/><circle cx="638.5" cy="56.64" r="1.05" fill="#ff0000"/>
<text transform="translate(659.5 62.84) scale(1 1.03)" font-family='"Liberation Serif", serif' font-size="13.5">CY</text>
<path d="M638.5 72.49 L643.7 81.29 L633.3 81.29 Z" fill="#fff" stroke="#00ff00" stroke-width="1.6"/><circle cx="638.5" cy="78.39" r="1.05" fill="#00ff00"/>
<text transform="translate(659.5 84.59) scale(1 1.03)" font-family='"Liberation Serif", serif' font-size="13.5">DD</text>
<path d="M638.5 106.03 L643.7 97.23 L633.3 97.23 Z" fill="#fff" stroke="#0000ff" stroke-width="1.6"/><circle cx="638.5" cy="100.13" r="1.05" fill="#0000ff"/>
<text transform="translate(659.5 106.33) scale(1 1.03)" font-family='"Liberation Serif", serif' font-size="13.5">FC</text>
<path d="M638.5 116.18 L644.2 121.88 L638.5 127.58 L632.8 121.88 Z" fill="#fff" stroke="#00ffff" stroke-width="1.6"/><circle cx="638.5" cy="121.88" r="1.05" fill="#00ffff"/>
<text transform="translate(659.5 128.08) scale(1 1.03)" font-family='"Liberation Serif", serif' font-size="13.5">LB</text>
<path d="M632.3 143.62 L641.7 138.22 L641.7 149.03 Z" fill="#fff" stroke="#ff00ff" stroke-width="1.6"/><circle cx="638.5" cy="143.62" r="1.05" fill="#ff00ff"/>
<text transform="translate(659.5 149.82) scale(1 1.03)" font-family='"Liberation Serif", serif' font-size="13.5">NC</text>
<path d="M644.7 165.37 L635.3 159.97 L635.3 170.77 Z" fill="#fff" stroke="#eeee00" stroke-width="1.6"/><circle cx="638.5" cy="165.37" r="1.05" fill="#eeee00"/>
<text transform="translate(659.5 171.57) scale(1 1.03)" font-family='"Liberation Serif", serif' font-size="13.5">TC</text>
<path d="M638.5 182.02 L634.08 184.56 L634.08 189.67 L638.5 192.22 L642.92 189.67 L642.92 184.56 Z" fill="#fff" stroke="#808000" stroke-width="1.6"/><circle cx="638.5" cy="187.12" r="1.05" fill="#808000"/>
<text transform="translate(659.5 193.31) scale(1 1.03)" font-family='"Liberation Serif", serif' font-size="13.5">TS</text>
<path d="M638.5 204.41 L637.27 207.61 L633.84 207.8 L636.5 209.96 L635.62 213.27 L638.5 211.41 L641.38 213.27 L640.5 209.96 L643.16 207.8 L639.73 207.61 Z" fill="#fff" stroke="#000080" stroke-width="1.7" stroke-linejoin="round"/><circle cx="638.5" cy="208.86" r="1.05" fill="#000080"/>
<text transform="translate(659.5 215.06) scale(1 1.03)" font-family='"Liberation Serif", serif' font-size="13.5">XM</text>
<path d="M638.5 225.81 L633.93 229.12 L635.68 234.49 L641.32 234.49 L643.07 229.12 Z" fill="#fff" stroke="#800080" stroke-width="1.6"/><circle cx="638.5" cy="230.61" r="1.05" fill="#800080"/>
<text transform="translate(659.5 236.81) scale(1 1.03)" font-family='"Liberation Serif", serif' font-size="13.5">YM</text>
<path d="M633.5 252.35 H643.5 M638.5 247.35 V257.35" fill="none" stroke="#800000" stroke-width="1.6"/>
<text transform="translate(659.5 258.55) scale(1 1.03)" font-family='"Liberation Serif", serif' font-size="13.5">ZC</text>
<path d="M632.6 274.1 H644.4 M638.5 268.2 V280 M634.25 269.85 L642.75 278.34 M634.25 278.34 L642.75 269.85" fill="none" stroke="#2a8c1e" stroke-width="1.6"/>
<text transform="translate(659.5 280.3) scale(1 1.03)" font-family='"Liberation Serif", serif' font-size="13.5">ZZ</text>
</svg>
</body></html>
